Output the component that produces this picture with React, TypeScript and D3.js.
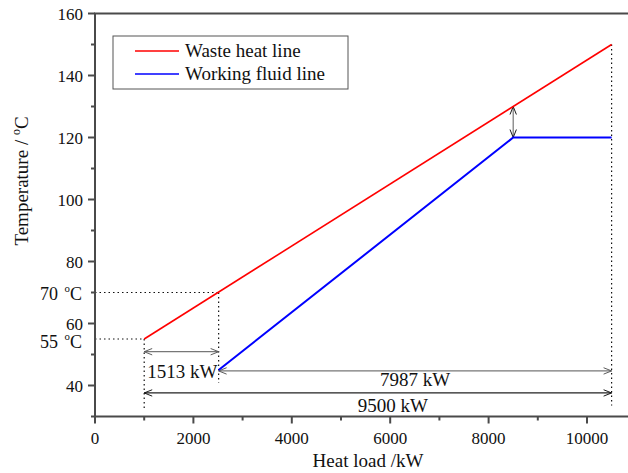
import React from "react"
import * as d3 from "d3"

// heat load (kW) / temperature (°C)
const wasteHeatX = [1000, 10500]
const wasteHeatY = [55, 150]
const fluidX = [2513, 8500, 10500]
const fluidY = [45, 120, 120]
const pinchX = 8500
const pinchY = [120, 130]
const xMajor = [0, 2000, 4000, 6000, 8000, 10000]
const xMinor = [1000, 3000, 5000, 7000, 9000]
const yMajor = [40, 60, 80, 100, 120, 140, 160]
const yMinor = [30, 50, 70, 90, 110, 130, 150]
const legendLabels = ["Waste heat line", "Working fluid line"]
const legendColors = ["#ff0000", "#0000ff"]

const width = 628
const height = 473
const margin = {top: 13.5, right: 0, bottom: 56.5, left: 95}
const font = "'Liberation Serif', 'Times New Roman', serif"

const App = () => {
    const x = d3.scaleLinear()
        .domain([0, 10000])
        .range([margin.left, margin.left + 492])
    const y = d3.scaleLinear()
        .domain([30, 160])
        .range([height - margin.bottom, margin.top])

    const line = d3.line<[number, number]>()
        .x(d => x(d[0]))
        .y(d => y(d[1]))

    const wastePts = wasteHeatX.map((v, i) => [v, wasteHeatY[i]] as [number, number])
    const fluidPts = fluidX.map((v, i) => [v, fluidY[i]] as [number, number])

    const x0 = margin.left
    const yBottom = y(30)
    const axisColor = "#4a4a4a"

    const deg = (label: string, px: number, py: number, size = 18) => (
        <text x={px} y={py} fontSize={size} textAnchor="end" fontFamily={font} fill="#111">
            {label}
            <tspan dx={2} dy={-8} fontSize={size * 0.6}>o</tspan>
            <tspan dy={8}>C</tspan>
        </text>
    )

    return (
        <svg width={width} height={height} style={{position: "absolute", left: 0, top: 0, background: "#fff"}}>
            <defs>
                <marker id="ag" viewBox="0 0 10 10" refX="10" refY="5" markerWidth="10" markerHeight="8"
                        markerUnits="userSpaceOnUse" orient="auto-start-reverse">
                    <path d="M0,1 L10,5 L0,9" fill="none" stroke="#555" strokeWidth={1.2}/>
                </marker>
                <marker id="ak" viewBox="0 0 10 10" refX="10" refY="5" markerWidth="10" markerHeight="8"
                        markerUnits="userSpaceOnUse" orient="auto-start-reverse">
                    <path d="M0,1 L10,5 L0,9" fill="none" stroke="#111" strokeWidth={1.2}/>
                </marker>
            </defs>

            {/* dotted guide lines */}
            <g stroke="#111" strokeWidth={1.2} strokeDasharray="1.5,3" fill="none">
                <line x1={x0} x2={x(1000)} y1={y(55)} y2={y(55)}/>
                <line x1={x0} x2={x(2513)} y1={y(70)} y2={y(70)}/>
                <line x1={x(1000)} x2={x(1000)} y1={y(55)} y2={yBottom - 6}/>
                <line x1={x(2513)} x2={x(2513)} y1={y(70)} y2={y(40.8)}/>
                <line x1={x(10500)} x2={x(10500)} y1={y(150)} y2={yBottom - 11}/>
            </g>

            {/* dimension arrows */}
            <line x1={x(1000)} x2={x(2513)} y1={y(50.9)} y2={y(50.9)} stroke="#777" strokeWidth={1.2}
                  markerStart="url(#ag)" markerEnd="url(#ag)"/>
            <line x1={x(2513)} x2={x(10500)} y1={y(44.7)} y2={y(44.7)} stroke="#777" strokeWidth={1.2}
                  markerStart="url(#ag)" markerEnd="url(#ag)"/>
            <line x1={x(1000)} x2={x(10500)} y1={y(37.6)} y2={y(37.6)} stroke="#222" strokeWidth={1.2}
                  markerStart="url(#ak)" markerEnd="url(#ak)"/>
            <line x1={x(pinchX)} x2={x(pinchX)} y1={y(pinchY[0])} y2={y(pinchY[1])} stroke="#777" strokeWidth={1.2}
                  markerStart="url(#ak)" markerEnd="url(#ak)"/>

            <g fontFamily={font} fontSize={19} fill="#111">
                <text x={x(1000) + 3} y={378}>1513 kW</text>
                <text x={(x(2513) + x(10500)) / 2} y={386} textAnchor="middle">7987 kW</text>
                <text x={(x(1000) + x(10500)) / 2 + 15} y={412} textAnchor="middle">9500 kW</text>
            </g>

            {/* data lines */}
            <path d={line(wastePts) ?? ""} fill="none" stroke={legendColors[0]} strokeWidth={1.6}/>
            <path d={line(fluidPts) ?? ""} fill="none" stroke={legendColors[1]} strokeWidth={2}/>

            {/* axes */}
            <g stroke={axisColor} strokeWidth={2}>
                <line x1={x0} x2={x0} y1={margin.top} y2={yBottom}/>
                <line x1={x0 - 1} x2={width} y1={yBottom} y2={yBottom}/>
                <line x1={x0 - 1} x2={width} y1={margin.top} y2={margin.top}/>
                {yMajor.map(v => <line key={"ym" + v} x1={x0 - 7} x2={x0} y1={y(v)} y2={y(v)}/>)}
                {yMinor.map(v => <line key={"yn" + v} x1={x0 - 4} x2={x0} y1={y(v)} y2={y(v)}/>)}
                {xMajor.map(v => <line key={"xm" + v} x1={x(v)} x2={x(v)} y1={yBottom} y2={yBottom + 7}/>)}
                {xMinor.map(v => <line key={"xn" + v} x1={x(v)} x2={x(v)} y1={yBottom} y2={yBottom + 4}/>)}
            </g>

            <g fontFamily={font} fontSize={17} fill="#111">
                {yMajor.map(v => (
                    <text key={v} x={x0 - 12} y={y(v) + 6} textAnchor="end">{v}</text>
                ))}
                {xMajor.map(v => (
                    <text key={v} x={x(v)} y={yBottom + 27} textAnchor="middle">{v}</text>
                ))}
            </g>

            {deg("70 ", x0 - 13, y(70) + 7)}
            {deg("55 ", x0 - 13, y(55) + 9)}

            <text x={368} y={467} textAnchor="middle" fontFamily={font} fontSize={19}
                  fill="#111">Heat load /kW</text>
            <g transform={`translate(28, 181) rotate(-90)`}>
                <text x={0} y={0} textAnchor="middle" fontFamily={font} fontSize={19} fill="#111">
                    Temperature / <tspan dy={-8} fontSize={12}>o</tspan><tspan dy={8}>C</tspan>
                </text>
            </g>

            {/* legend */}
            <rect x={113} y={36} width={235} height={53} fill="#fff" stroke="#555" strokeWidth={1}/>
            {legendLabels.map((lab, i) => (
                <g key={lab}>
                    <line x1={135} x2={179} y1={51 + i * 23} y2={51 + i * 23} stroke={legendColors[i]}
                          strokeWidth={1.6}/>
                    <text x={185} y={57 + i * 23} fontFamily={font} fontSize={19} fill="#111">{lab}</text>
                </g>
            ))}
        </svg>
    )
}

export default App
